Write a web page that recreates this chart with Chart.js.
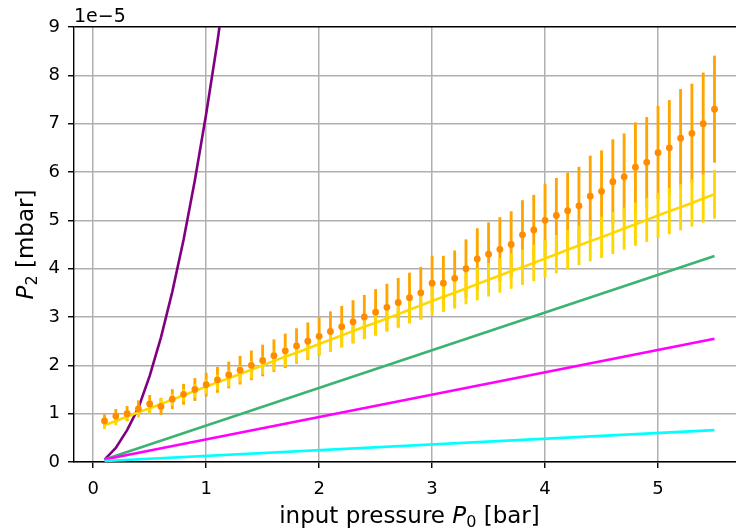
<!DOCTYPE html>
<html>
<head>
<meta charset="utf-8">
<script src="https://cdn.jsdelivr.net/npm/chart.js@4/dist/chart.umd.min.js"></script>
<style>
  html, body { margin: 0; padding: 0; background: #fff; overflow: hidden; }
  #wrap { width: 760px; height: 532px; }
</style>
</head>
<body>
<div id="wrap"><canvas id="chart" width="760" height="532"></canvas></div>
<script>
// P2 (×1e-5 mbar) vs. input pressure P0 [bar]: measured points with error bars,
// model line with its own band, and several reference curves.

const pressure = [0.1, 0.2, 0.3, 0.4, 0.5, 0.6, 0.7, 0.8, 0.9, 1.0, 1.1, 1.2, 1.3, 1.4, 1.5, 1.6, 1.7, 1.8, 1.9, 2.0,
    2.1, 2.2, 2.3, 2.4, 2.5, 2.6, 2.7, 2.8, 2.9, 3.0, 3.1, 3.2, 3.3, 3.4, 3.5, 3.6, 3.7, 3.8, 3.9, 4.0,
    4.1, 4.2, 4.3, 4.4, 4.5, 4.6, 4.7, 4.8, 4.9, 5.0, 5.1, 5.2, 5.3, 5.4, 5.5];

// measured P2 (orange dots) and their errors
const measured = [0.85, 0.95, 1.0, 1.1, 1.2, 1.15, 1.3, 1.4, 1.5, 1.6, 1.7, 1.8, 1.9, 2.0, 2.1, 2.2, 2.3, 2.4, 2.5, 2.6,
    2.7, 2.8, 2.9, 3.0, 3.1, 3.2, 3.3, 3.4, 3.5, 3.7, 3.7, 3.8, 4.0, 4.2, 4.3, 4.4, 4.5, 4.7, 4.8, 5.0,
    5.1, 5.2, 5.3, 5.5, 5.6, 5.8, 5.9, 6.1, 6.2, 6.4, 6.5, 6.7, 6.8, 7.0, 7.3];
const measuredErr = [0.13, 0.14, 0.15, 0.17, 0.18, 0.17, 0.20, 0.21, 0.23, 0.24, 0.26, 0.27, 0.29, 0.30, 0.32, 0.33, 0.35, 0.36, 0.38, 0.39,
    0.41, 0.42, 0.44, 0.45, 0.47, 0.48, 0.50, 0.51, 0.53, 0.56, 0.56, 0.57, 0.60, 0.63, 0.65, 0.66, 0.68, 0.71, 0.72, 0.75,
    0.77, 0.78, 0.80, 0.83, 0.84, 0.87, 0.89, 0.92, 0.93, 0.96, 0.98, 1.01, 1.02, 1.05, 1.10];

// model (gold line) and its error bars
const model = [0.76, 0.85, 0.94, 1.03, 1.11, 1.20, 1.29, 1.38, 1.47, 1.56, 1.65, 1.73, 1.82, 1.91, 2.00, 2.09, 2.18, 2.26, 2.35, 2.44,
    2.53, 2.62, 2.71, 2.80, 2.88, 2.97, 3.06, 3.15, 3.24, 3.33, 3.42, 3.50, 3.59, 3.68, 3.77, 3.86, 3.95, 4.03, 4.12, 4.21,
    4.30, 4.39, 4.48, 4.57, 4.65, 4.74, 4.83, 4.92, 5.01, 5.10, 5.19, 5.27, 5.36, 5.45, 5.54];
const modelErr = [0.07, 0.08, 0.08, 0.09, 0.10, 0.11, 0.12, 0.12, 0.13, 0.14, 0.15, 0.16, 0.16, 0.17, 0.18, 0.19, 0.20, 0.20, 0.21, 0.22,
    0.23, 0.24, 0.24, 0.25, 0.26, 0.27, 0.28, 0.28, 0.29, 0.30, 0.31, 0.32, 0.32, 0.33, 0.34, 0.35, 0.36, 0.36, 0.37, 0.38,
    0.39, 0.40, 0.40, 0.41, 0.42, 0.43, 0.43, 0.44, 0.45, 0.46, 0.47, 0.47, 0.48, 0.49, 0.50];

// purple curve (leaves the plot above 9)
const purpleX = [0.1, 0.2, 0.3, 0.4, 0.5, 0.6, 0.7, 0.8, 0.9, 1.0, 1.1, 1.2];
const purpleY = [0.05, 0.29, 0.66, 1.12, 1.78, 2.58, 3.52, 4.6, 5.83, 7.2, 8.7, 10.4];

// straight reference lines
const lineX = [0.1, 5.5];
const greenY = [0.05, 4.26];
const magentaY = [0.05, 2.55];
const cyanY = [0.02, 0.66];

const yTicks = [0, 1, 2, 3, 4, 5, 6, 7, 8, 9];
const xTicks = [0, 1, 2, 3, 4, 5];

const FONT = "'DejaVu Sans', sans-serif";

const pts = (xs, ys) => xs.map((x, i) => ({ x, y: ys[i] }));
const bars = (ys, es) => pressure.map((x, i) => ({ x, y: [ys[i] - es[i], ys[i] + es[i]] }));

const lineDs = (data, color, order) => ({
    type: 'line', data, borderColor: color, borderWidth: 2.6, pointRadius: 0, fill: false, order,
});

// mixed-style text: italic P with subscript
function drawRich(ctx, parts, cx, cy) {
    let total = 0;
    parts.forEach((p) => { ctx.font = p.font; p.w = ctx.measureText(p.t).width; total += p.w; });
    let x = cx - total / 2;
    ctx.textBaseline = 'middle';
    ctx.textAlign = 'left';
    parts.forEach((p) => {
        ctx.font = p.font;
        ctx.fillText(p.t, x, cy + (p.dy || 0));
        x += p.w;
    });
}

const textPlugin = {
    id: 'axisText',
    afterDraw(chart) {
        const { ctx, chartArea } = chart;
        ctx.save();
        ctx.fillStyle = '#000';
        // offset text
        ctx.font = `19px ${FONT}`;
        ctx.textAlign = 'left';
        ctx.textBaseline = 'alphabetic';
        ctx.fillText('1e\u22125', chartArea.left, chartArea.top - 5);
        // x title
        drawRich(ctx, [
            { t: 'input pressure ', font: `23px ${FONT}` },
            { t: 'P', font: `italic 23px ${FONT}` },
            { t: '0', font: `16px ${FONT}`, dy: 6 },
            { t: ' [bar]', font: `23px ${FONT}` },
        ], (chartArea.left + chartArea.right) / 2, 517);
        // y title
        ctx.translate(27, (chartArea.top + chartArea.bottom) / 2);
        ctx.rotate(-Math.PI / 2);
        drawRich(ctx, [
            { t: 'P', font: `italic 23px ${FONT}` },
            { t: '2', font: `16px ${FONT}`, dy: 6 },
            { t: ' [mbar]', font: `23px ${FONT}` },
        ], 0, 0);
        ctx.restore();
    },
};

new Chart(document.getElementById('chart'), {
    type: 'line',
    data: {
        datasets: [
            lineDs(pts(purpleX, purpleY), '#800080', 9),
            { type: 'bar', data: bars(measured, measuredErr), backgroundColor: '#ffa500', barThickness: 2.2, grouped: false, order: 8 },
            { type: 'bar', data: bars(model, modelErr), backgroundColor: '#ffd700', barThickness: 2.2, grouped: false, order: 7 },
            lineDs(pts(pressure, model), '#ffd700', 6),
            {
                type: 'line', data: pts(pressure, measured), showLine: false, pointRadius: 3.4,
                pointBackgroundColor: '#ff8c00', pointBorderWidth: 0, order: 5,
            },
            lineDs(pts(lineX, greenY), '#3cb371', 4),
            lineDs(pts(lineX, magentaY), '#ff00ff', 3),
            lineDs(pts(lineX, cyanY), '#00ffff', 2),
        ],
    },
    options: {
        responsive: false,
        animation: false,
        events: [],
        layout: { padding: { left: 0, top: 27, right: 15, bottom: 0 } },
        plugins: { legend: { display: false }, tooltip: { enabled: false } },
        scales: {
            x: {
                type: 'linear',
                min: -0.17,
                max: 5.77,
                offset: false,
                afterBuildTicks: (s) => { s.ticks = xTicks.map((v) => ({ value: v })); },
                afterFit: (s) => { s.height = 70; },
                ticks: { color: '#000', font: { family: FONT, size: 18 }, padding: 11 },
                grid: { offset: false, color: '#b0b0b0', lineWidth: 1.5, tickLength: 6, tickColor: '#000', tickWidth: 1.4 },
                border: { color: '#000', width: 1.4 },
            },
            y: {
                min: 0,
                max: 9,
                afterBuildTicks: (s) => { s.ticks = yTicks.map((v) => ({ value: v })); },
                afterFit: (s) => { s.width = 74; },
                ticks: { color: '#000', font: { family: FONT, size: 18 }, padding: 8 },
                grid: {
                    color: (c) => (c.tick && c.tick.value === 9 ? '#000' : '#b0b0b0'),
                    lineWidth: (c) => (c.tick && c.tick.value === 9 ? 1.4 : 1.5),
                    tickLength: 6, tickColor: '#000', tickWidth: 1.4,
                },
                border: { color: '#000', width: 1.4 },
            },
        },
    },
    plugins: [textPlugin],
});
</script>
</body>
</html>
